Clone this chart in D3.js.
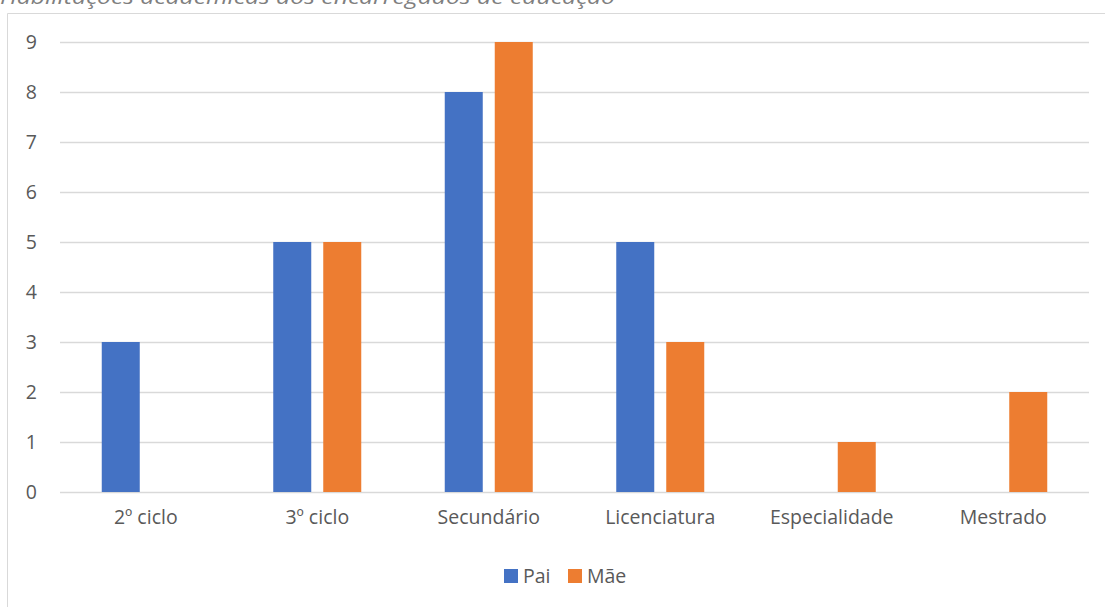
<!DOCTYPE html>
<html>
<head>
<meta charset="utf-8">
<script src="https://cdn.jsdelivr.net/npm/d3@7"></script>
<style>
  html, body { margin: 0; padding: 0; background: #fff; overflow: hidden; }
  svg { display: block; }
</style>
</head>
<body>
<svg id="chart" width="1105" height="607"></svg>
<script>
// Habilitações académicas dos encarregados de educação
const categories = ["2º ciclo", "3º ciclo", "Secundário", "Licenciatura", "Especialidade", "Mestrado"];
const seriesNames = ["Pai", "Mãe"];
const pai = [3, 5, 8, 5, 0, 0];
const mae = [0, 5, 9, 3, 1, 2];
const yTicks = [0, 1, 2, 3, 4, 5, 6, 7, 8, 9];
const colors = ["#4472c4", "#ed7d31"];
const title = "Habilitações académicas dos encarregados de educação";

const svg = d3.select("#chart");
const W = 1105, H = 607;
const font = "'Open Sans', 'Noto Sans', sans-serif";
const textColor = "#595959";
const fs = 19.5;

// Chart frame (top and left edges)
svg.append("line").attr("x1", 7.5).attr("x2", W).attr("y1", 13.5).attr("y2", 13.5)
  .attr("stroke", "#d9d9d9").attr("stroke-width", 1);
svg.append("line").attr("x1", 7.5).attr("x2", 7.5).attr("y1", 13.5).attr("y2", H)
  .attr("stroke", "#d9d9d9").attr("stroke-width", 1);

// Title
svg.append("text")
  .attr("x", 0).attr("y", 4)
  .attr("font-family", font).attr("font-style", "italic")
  .attr("font-size", 20).attr("fill", "#7f7f7f")
  .attr("textLength", 615).attr("lengthAdjust", "spacingAndGlyphs")
  .text(title);

const plot = { left: 60, right: 1089, top: 42, bottom: 492 };

const x = d3.scaleBand().domain(categories).range([plot.left, plot.right]);
const y = d3.scaleLinear().domain([0, 9]).range([plot.bottom, plot.top]);

// Gridlines
svg.append("g").selectAll("line").data(yTicks).join("line")
  .attr("x1", plot.left).attr("x2", plot.right)
  .attr("y1", d => Math.round(y(d)) + 0.5).attr("y2", d => Math.round(y(d)) + 0.5)
  .attr("stroke", "#d9d9d9").attr("stroke-width", 1.3);

// Y axis labels
const yAxis = d3.axisLeft(y).tickValues(yTicks).tickSize(0).tickPadding(0);
const gy = svg.append("g").attr("transform", `translate(37,0)`).call(yAxis);
gy.select(".domain").remove();
gy.selectAll("text").attr("font-family", font).attr("font-size", fs).attr("fill", textColor);

// X axis labels
const xAxis = d3.axisBottom(x).tickSize(0).tickPadding(0);
const gx = svg.append("g").attr("transform", `translate(0,510)`).call(xAxis);
gx.select(".domain").remove();
gx.selectAll("text").attr("font-family", font).attr("font-size", fs).attr("fill", textColor);

// Bars
const barW = 38, gap = 12;
const sub = d3.scaleBand().domain(seriesNames)
  .range([-(barW + gap / 2), barW + gap / 2]).paddingInner(gap / (barW + gap));
const rows = categories.map((c, i) => ({ c, vals: [pai[i], mae[i]] }));
const gBars = svg.append("g");
seriesNames.forEach((s, si) => {
  gBars.selectAll(null).data(rows.filter(r => r.vals[si] > 0)).join("rect")
    .attr("x", r => x(r.c) + x.bandwidth() / 2 + sub(s))
    .attr("width", sub.bandwidth())
    .attr("y", r => y(r.vals[si]))
    .attr("height", r => y(0) - y(r.vals[si]))
    .attr("fill", colors[si]);
});

// Legend
const legend = svg.append("g").attr("transform", "translate(504,569)");
const legendItems = [{ name: "Pai", dx: 0 }, { name: "Mãe", dx: 64 }];
legendItems.forEach((it, i) => {
  legend.append("rect").attr("x", it.dx).attr("y", 0).attr("width", 14).attr("height", 14).attr("fill", colors[i]);
  legend.append("text").attr("x", it.dx + 19).attr("y", 14)
    .attr("font-family", font).attr("font-size", fs).attr("fill", textColor).text(it.name);
});
</script>
</body>
</html>
